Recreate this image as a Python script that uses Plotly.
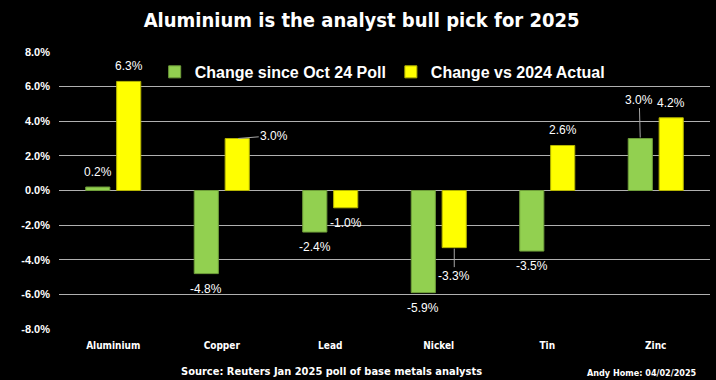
import plotly.graph_objects as go

metals = ["Aluminium", "Copper", "Lead", "Nickel", "Tin", "Zinc"]
change_oct_poll = [0.2, -4.8, -2.4, -5.9, -3.5, 3.0]
change_vs_2024 = [6.3, 3.0, -1.0, -3.3, 2.6, 4.2]
series_names = ["Change since Oct 24 Poll", "Change vs 2024 Actual"]
y_ticks = [-8, -6, -4, -2, 0, 2, 4, 6, 8]

GREEN = "#92D050"
YELLOW = "#FFFF00"
COND = "Liberation Sans Narrow, DejaVu Sans Condensed, Arial Narrow, sans-serif"
ARIAL = "Liberation Sans, Arial, sans-serif"

fig = go.Figure()
fig.add_trace(go.Bar(x=metals, y=change_oct_poll, name=series_names[0],
                     marker=dict(color=GREEN, line=dict(color="#6f9e3a", width=1))))
fig.add_trace(go.Bar(x=metals, y=change_vs_2024, name=series_names[1],
                     marker=dict(color=YELLOW, line=dict(color="#b5b500", width=1))))

group_shift = 15.5
arrow_labels = {(0, "Zinc"): (-1, -39), (1, "Copper"): (37, -3), (1, "Nickel"): (0, 28)}
annotations = []
for s, vals in enumerate([change_oct_poll, change_vs_2024]):
    xs = -group_shift if s == 0 else group_shift
    for m, v in zip(metals, vals):
        txt = f"{v:.1f}%"
        if (s, m) in arrow_labels:
            ax, ay = arrow_labels[(s, m)]
            annotations.append(dict(x=m, y=v, xshift=xs, text=txt, showarrow=True,
                                    arrowhead=0, arrowwidth=1, arrowcolor="#A6A6A6",
                                    ax=ax, ay=ay, standoff=1,
                                    font=dict(family=ARIAL, size=12, color="white")))
        else:
            annotations.append(dict(x=m, y=v, xshift=xs, yshift=15 if v >= 0 else -15,
                                    text=txt, showarrow=False,
                                    font=dict(family=ARIAL, size=12, color="white")))

annotations.append(dict(xref="paper", yref="paper", x=0.418, y=-0.152,
                        xanchor="center", yanchor="middle", showarrow=False,
                        text="Source: Reuters Jan 2025 poll of base metals analysts",
                        font=dict(family=COND, size=11, color="white", weight="bold")))
annotations.append(dict(xref="paper", yref="paper", x=0.983, y=-0.158,
                        xanchor="right", yanchor="middle", showarrow=False,
                        text="Andy Home: 04/02/2025",
                        font=dict(family=COND, size=9, color="white", weight="bold")))

fig.update_layout(
    width=716, height=380,
    margin=dict(l=59, r=6, t=52, b=51),
    paper_bgcolor="black", plot_bgcolor="black",
    barmode="group", bargap=0.43, bargroupgap=0.22,
    title=dict(text="Aluminium is the analyst bull pick for 2025",
               x=0.505, xanchor="center", y=0.947, yanchor="middle",
               font=dict(family=COND, size=20, color="white", weight="bold")),
    legend=dict(orientation="h", x=0.147, xanchor="left", y=0.928, yanchor="middle",
                bgcolor="rgba(0,0,0,0)",
                font=dict(family=ARIAL, size=16, color="white", weight="bold"),
                itemwidth=30, tracegroupgap=0),
    xaxis=dict(showgrid=False, showline=False, ticks="", ticklabelstandoff=9,
               tickfont=dict(family=COND, size=10, color="white", weight="bold")),
    yaxis=dict(range=[-8, 8], tickvals=y_ticks, ticktext=[f"{t:.1f}%" for t in y_ticks],
               showgrid=True, gridcolor="#B0B0B0", gridwidth=1, zeroline=False,
               ticklabelstandoff=8,
               tickfont=dict(family=ARIAL, size=11, color="white", weight="bold")),
    annotations=annotations,
    showlegend=True,
)

fig.write_html("out.html", config={"displayModeBar": False},
               post_script="document.body.style.margin='0';document.body.style.background='black';")
